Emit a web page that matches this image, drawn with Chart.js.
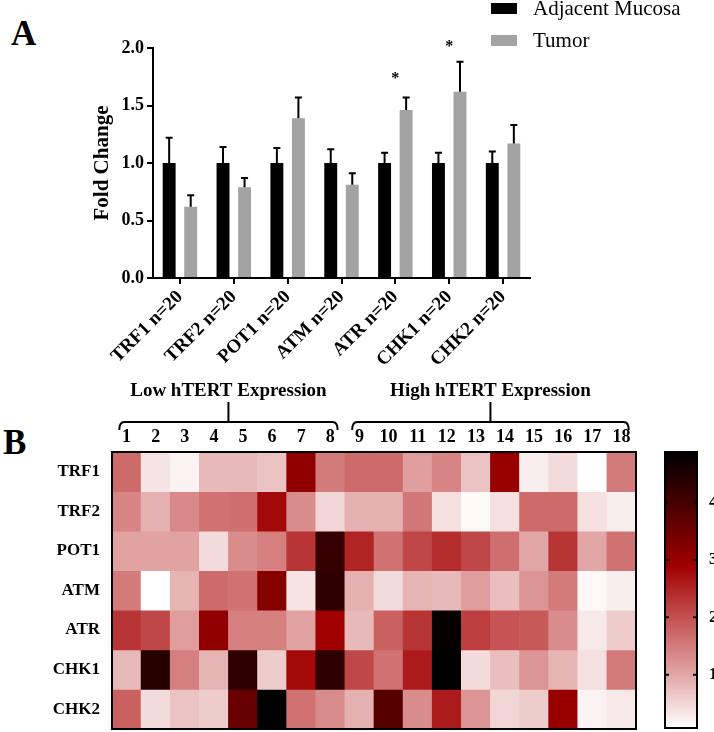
<!DOCTYPE html>
<html>
<head>
<meta charset="utf-8">
<script src="https://cdn.jsdelivr.net/npm/chart.js@4.4.1/dist/chart.umd.min.js"></script>
<style>
  body { margin: 0; background: #fff; }
  #wrap { position: relative; width: 714px; height: 732px; overflow: hidden; }
  canvas { position: absolute; }
  .panel { position: absolute; font: bold 35px "Liberation Serif", serif; line-height: 1; color: #000; }
</style>
</head>
<body>
<div id="wrap">
  <div class="panel" style="left:11px; top:16px;">A</div>
  <div class="panel" style="left:3px; top:425px;">B</div>
  <canvas id="barChart" width="714" height="380" style="left:0; top:0;"></canvas>
  <canvas id="heatChart" width="650" height="362" style="left:0; top:370px;"></canvas>
  <canvas id="barScale" width="64" height="292" style="left:650px; top:440px;"></canvas>
</div>
<script>
// Panel A data
const genes = ['TRF1 n=20', 'TRF2 n=20', 'POT1 n=20', 'ATM n=20', 'ATR n=20', 'CHK1 n=20', 'CHK2 n=20'];
const mucosa = [1.0, 1.0, 1.0, 1.0, 1.0, 1.0, 1.0];
const mucosaErr = [0.22, 0.14, 0.13, 0.12, 0.09, 0.09, 0.10];
const tumor = [0.62, 0.79, 1.39, 0.81, 1.46, 1.62, 1.17];
const tumorErr = [0.10, 0.08, 0.18, 0.10, 0.11, 0.26, 0.16];
const stars = [null, null, null, null, 1.77, 2.05, null];
const foldTicks = [0, 0.5, 1.0, 1.5, 2.0];

// Panel B data
const rowLabels = ['TRF1', 'TRF2', 'POT1', 'ATM', 'ATR', 'CHK1', 'CHK2'];
const colLabels = ['1','2','3','4','5','6','7','8','9','10','11','12','13','14','15','16','17','18'];
const trf1 = [1.7, 0.35, 0.2, 0.8, 0.8, 0.7, 3.1, 1.5, 1.7, 1.7, 1.1, 1.4, 0.7, 3.0, 0.25, 0.45, 0.07, 1.5];
const trf2 = [1.4, 0.9, 1.35, 1.6, 1.65, 2.8, 1.3, 0.5, 0.9, 0.9, 1.55, 0.4, 0.12, 0.4, 1.7, 1.7, 0.4, 0.25];
const pot1 = [1.05, 1.05, 1.05, 0.45, 1.3, 1.45, 2.3, 4.2, 2.5, 1.6, 2.1, 2.4, 2.1, 1.65, 1.0, 2.3, 1.0, 1.6];
const atm = [1.5, 0.07, 0.85, 1.7, 1.6, 3.2, 0.35, 4.3, 0.9, 0.45, 0.85, 0.8, 1.1, 0.75, 1.2, 1.5, 0.15, 0.25];
const atr = [2.3, 2.1, 1.1, 3.1, 1.45, 1.45, 1.05, 2.9, 0.8, 1.8, 2.3, 4.8, 2.2, 1.95, 1.9, 1.3, 0.3, 0.6];
const chk1 = [0.8, 4.4, 1.45, 0.85, 4.3, 0.6, 2.8, 4.3, 2.1, 1.6, 2.6, 4.88, 0.45, 0.75, 1.2, 0.85, 0.4, 1.5];
const chk2 = [1.8, 0.45, 0.7, 0.6, 3.6, 4.88, 1.6, 1.3, 0.9, 3.8, 1.3, 2.6, 1.2, 0.5, 0.6, 3.0, 0.2, 0.3];
const groupLabels = ['Low hTERT Expression', 'High hTERT Expression'];
const groupFirst = [0, 8];
const groupLast = [7, 17];

// colour scale
const scaleMin = 0.07;
const scaleMax = 4.88;
const scaleTicks = [1, 2, 3, 4];
const cmapValues = [0.07, 1, 2, 2.9, 4, 4.88];
const cmapColors = [[255, 255, 255], [226, 166, 166], [196, 80, 80], [160, 0, 0], [70, 0, 0], [0, 0, 0]];

const serif = '"Liberation Serif", "Times New Roman", serif';

function colorFor(v) {
  v = Math.max(cmapValues[0], Math.min(cmapValues[cmapValues.length - 1], v));
  let i = 0;
  while (i < cmapValues.length - 2 && v > cmapValues[i + 1]) i++;
  const t = (v - cmapValues[i]) / (cmapValues[i + 1] - cmapValues[i]);
  const a = cmapColors[i], b = cmapColors[i + 1];
  const c = a.map((x, k) => Math.round(x + (b[k] - x) * t));
  return `rgb(${c[0]},${c[1]},${c[2]})`;
}

// drop the extra room chart.js keeps for end labels
const noPad = s => {
  s.paddingTop = 0; s.paddingBottom = 0; s.paddingLeft = 0; s.paddingRight = 0;
};

// error bars, stars and legend for panel A
const errorBars = {
  id: 'errorBars',
  afterDatasetsDraw(chart) {
    const { ctx, scales: { x, y } } = chart;
    const errs = [mucosaErr, tumorErr];
    ctx.save();
    ctx.strokeStyle = '#000';
    ctx.lineWidth = 2;
    chart.data.datasets.forEach((ds, i) => {
      chart.getDatasetMeta(i).data.forEach((bar, j) => {
        const top = y.getPixelForValue(ds.data[j] + errs[i][j]);
        ctx.beginPath();
        ctx.moveTo(bar.x, bar.y);
        ctx.lineTo(bar.x, top);
        ctx.moveTo(bar.x - 3.5, top);
        ctx.lineTo(bar.x + 3.5, top);
        ctx.stroke();
      });
    });
    ctx.fillStyle = '#000';
    ctx.font = 'bold 16px ' + serif;
    ctx.textAlign = 'center';
    ctx.textBaseline = 'alphabetic';
    stars.forEach((s, j) => {
      if (s == null) return;
      ctx.fillText('*', x.getPixelForValue(j), y.getPixelForValue(s) + 9);
    });
    ctx.restore();
  },
  afterDraw(chart) {
    const { ctx } = chart;
    ctx.save();
    ctx.font = '21px ' + serif;
    ctx.textBaseline = 'middle';
    chart.data.datasets.forEach((ds, i) => {
      ctx.fillStyle = ds.backgroundColor;
      ctx.fillRect(491, 3 + i * 32, 26, 11);
      ctx.fillStyle = '#000';
      ctx.fillText(ds.label, 533, 9 + i * 32);
    });
    ctx.restore();
  }
};

new Chart(document.getElementById('barChart'), {
  type: 'bar',
  data: {
    labels: genes,
    datasets: [
      { label: 'Adjacent Mucosa', data: mucosa, backgroundColor: '#000000' },
      { label: 'Tumor', data: tumor, backgroundColor: '#a3a3a3' }
    ]
  },
  options: {
    responsive: false,
    animation: false,
    barPercentage: 0.6,
    categoryPercentage: 0.8,
    layout: { padding: { left: 86, top: 48, right: 184, bottom: 0 } },
    plugins: { legend: { display: false }, tooltip: { enabled: false } },
    scales: {
      y: {
        min: 0,
        max: 2,
        afterFit: s => { s.width = 67; noPad(s); },
        afterBuildTicks: s => { s.ticks = foldTicks.map(v => ({ value: v })); },
        ticks: { color: '#000', font: { family: serif, size: 18, weight: 'bold' }, padding: 3, callback: v => v.toFixed(1) },
        grid: { drawOnChartArea: false, tickLength: 6, color: '#000', lineWidth: 2 },
        border: { color: '#000', width: 2 },
        title: { display: true, text: 'Fold Change', color: '#000', font: { family: serif, size: 21, weight: 'bold' }, padding: { top: 4, bottom: 0 } }
      },
      x: {
        afterFit: s => { s.height = 102; noPad(s); },
        ticks: { color: '#000', font: { family: serif, size: 19, weight: 'bold' }, minRotation: 45, maxRotation: 45, padding: 2 },
        grid: { offset: false, drawOnChartArea: false, tickLength: 6, color: '#000', lineWidth: 2 },
        border: { color: '#000', width: 2 }
      }
    }
  },
  plugins: [errorBars]
});

// heatmap outline and group brackets
const heatDecor = {
  id: 'heatDecor',
  afterDraw(chart) {
    const { ctx, chartArea: a, scales: { x } } = chart;
    const cell = (a.right - a.left) / colLabels.length;
    ctx.save();
    ctx.strokeStyle = '#000';
    ctx.lineWidth = 2;
    ctx.strokeRect(a.left, a.top, a.right - a.left, a.bottom - a.top);
    ctx.fillStyle = '#000';
    ctx.font = 'bold 19px ' + serif;
    ctx.textAlign = 'center';
    ctx.textBaseline = 'middle';
    groupLabels.forEach((label, g) => {
      const l = x.getPixelForValue(groupFirst[g]) - cell * 0.25;
      const r = x.getPixelForValue(groupLast[g]) + cell * 0.25;
      const mid = (l + r) / 2;
      const yb = 52;
      ctx.beginPath();
      ctx.moveTo(l, yb + 8);
      ctx.quadraticCurveTo(l, yb, l + 5, yb);
      ctx.lineTo(r - 5, yb);
      ctx.quadraticCurveTo(r, yb, r, yb + 8);
      ctx.moveTo(mid, yb);
      ctx.lineTo(mid, yb - 20);
      ctx.stroke();
      ctx.fillText(label, mid, 21);
    });
    ctx.restore();
  }
};

const rows = [trf1, trf2, pot1, atm, atr, chk1, chk2];

new Chart(document.getElementById('heatChart'), {
  type: 'bar',
  data: {
    labels: colLabels,
    datasets: rows.map((vals, r) => ({
      label: rowLabels[r],
      data: colLabels.map(() => [r, r + 1]),
      backgroundColor: vals.map(colorFor),
      borderWidth: 0
    }))
  },
  options: {
    responsive: false,
    animation: false,
    grouped: false,
    barPercentage: 1,
    categoryPercentage: 1,
    layout: { padding: { left: 0, top: 0, right: 14, bottom: 3 } },
    plugins: { legend: { display: false }, tooltip: { enabled: false } },
    scales: {
      x: {
        position: 'top',
        afterFit: s => { s.height = 82; noPad(s); },
        ticks: { color: '#000', font: { family: serif, size: 18, weight: 'bold' }, padding: 4, maxRotation: 0 },
        grid: { display: false, drawTicks: false },
        border: { display: false }
      },
      y: {
        min: 0,
        max: 7,
        reverse: true,
        afterFit: s => { s.width = 112; noPad(s); },
        afterBuildTicks: s => { s.ticks = rowLabels.map((_, i) => ({ value: i + 0.5 })); },
        ticks: { color: '#000', font: { family: serif, size: 17, weight: 'bold' }, padding: 12, callback: v => rowLabels[Math.floor(v)] },
        grid: { display: false, drawTicks: false },
        border: { display: false }
      }
    }
  },
  plugins: [heatDecor]
});

// colour bar
const scaleDecor = {
  id: 'scaleDecor',
  afterDraw(chart) {
    const { ctx, chartArea: a, scales: { y } } = chart;
    ctx.save();
    ctx.strokeStyle = '#000';
    ctx.lineWidth = 2;
    ctx.strokeRect(a.left, a.top, a.right - a.left, a.bottom - a.top);
    ctx.beginPath();
    scaleTicks.forEach(v => {
      const py = y.getPixelForValue(v);
      ctx.moveTo(a.left, py); ctx.lineTo(a.left + 4, py);
      ctx.moveTo(a.right - 4, py); ctx.lineTo(a.right, py);
    });
    ctx.stroke();
    ctx.restore();
  }
};

new Chart(document.getElementById('barScale'), {
  type: 'bar',
  data: {
    labels: [''],
    datasets: [{
      data: [[scaleMin, scaleMax]],
      borderWidth: 0,
      backgroundColor: ctx => {
        const chart = ctx.chart;
        if (!chart.chartArea) return '#fff';
        const y = chart.scales.y;
        const g = chart.ctx.createLinearGradient(0, y.getPixelForValue(scaleMin), 0, y.getPixelForValue(scaleMax));
        cmapValues.forEach((v, i) => {
          const c = cmapColors[i];
          g.addColorStop((v - scaleMin) / (scaleMax - scaleMin), `rgb(${c[0]},${c[1]},${c[2]})`);
        });
        return g;
      }
    }]
  },
  options: {
    responsive: false,
    animation: false,
    barPercentage: 1,
    categoryPercentage: 1,
    layout: { padding: { left: 15, top: 12, right: 0, bottom: 4 } },
    plugins: { legend: { display: false }, tooltip: { enabled: false } },
    scales: {
      x: { display: false },
      y: {
        position: 'right',
        min: scaleMin,
        max: scaleMax,
        afterFit: s => { s.width = 17; noPad(s); },
        afterBuildTicks: s => { s.ticks = scaleTicks.map(v => ({ value: v })); },
        ticks: { color: '#000', font: { family: serif, size: 17, weight: 'bold' }, padding: 12 },
        grid: { display: false, drawTicks: false },
        border: { display: false }
      }
    }
  },
  plugins: [scaleDecor]
});
</script>
</body>
</html>
